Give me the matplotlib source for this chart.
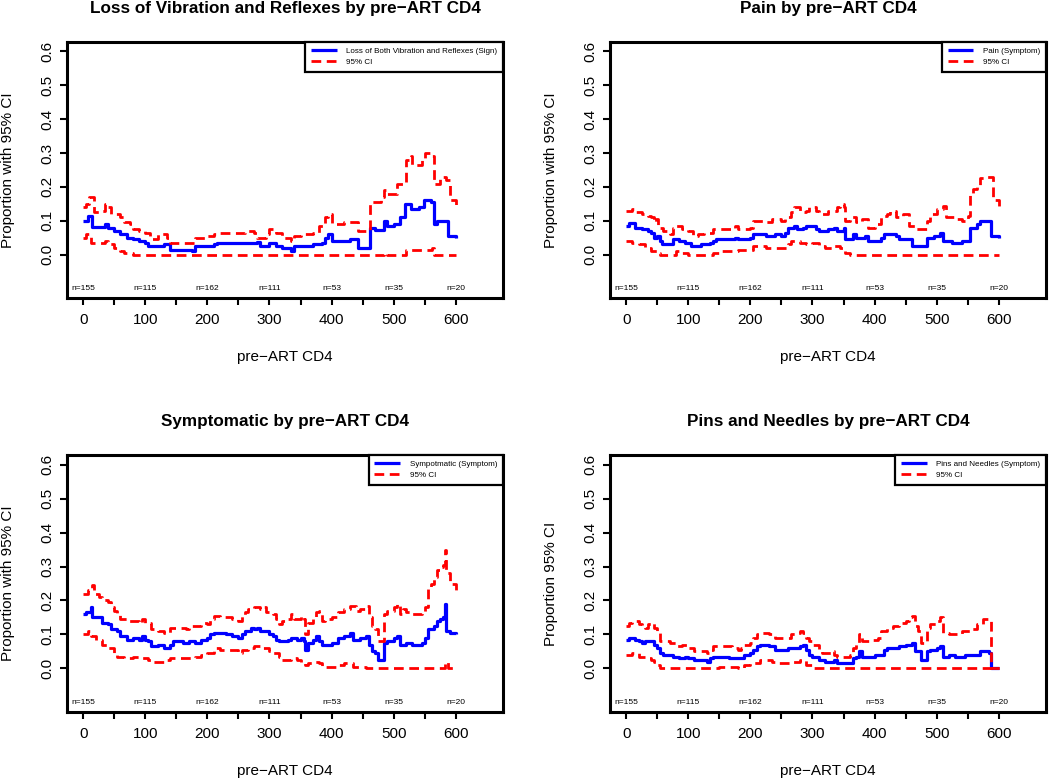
import numpy as np
import matplotlib
matplotlib.use("Agg")
import matplotlib.pyplot as plt

plt.rcParams['font.family'] = ['Liberation Sans', 'DejaVu Sans']

# ---- data ----
n_pos = [0, 100, 200, 300, 400, 500, 600]
n_labels = ['n=155', 'n=115', 'n=162', 'n=111', 'n=53', 'n=35', 'n=20']

# Loss of vibration and reflexes
loss_est_x = [0, 8, 15, 35, 40, 50, 60, 70, 80, 90, 100, 105, 130, 140, 175, 180, 210, 215, 280, 285,
              300, 310, 320, 335, 340, 370, 385, 390, 395, 400, 430, 442, 462, 470, 485, 490, 500, 510,
              518, 528, 540, 548, 560, 565, 570, 588, 600]
loss_est_y = [0.10, 0.113, 0.082, 0.09, 0.08, 0.07, 0.06, 0.05, 0.045, 0.04, 0.035, 0.025, 0.03, 0.015,
              0.012, 0.025, 0.03, 0.035, 0.038, 0.025, 0.035, 0.025, 0.02, 0.01, 0.025, 0.03, 0.035,
              0.05, 0.06, 0.04, 0.045, 0.02, 0.08, 0.072, 0.10, 0.085, 0.09, 0.11, 0.15, 0.135, 0.14,
              0.16, 0.155, 0.09, 0.10, 0.055, 0.05]
loss_up_x = [0, 5, 10, 18, 30, 35, 40, 45, 60, 65, 75, 80, 90, 100, 108, 120, 135, 140, 175, 180, 200,
             210, 220, 260, 275, 280, 295, 300, 310, 320, 335, 340, 350, 370, 380, 390, 395, 400, 420,
             442, 462, 480, 485, 490, 505, 520, 528, 530, 545, 550, 562, 565, 575, 585, 590, 600]
loss_up_y = [0.14, 0.15, 0.17, 0.125, 0.13, 0.15, 0.14, 0.12, 0.11, 0.095, 0.09, 0.075, 0.07, 0.065,
             0.045, 0.06, 0.05, 0.035, 0.035, 0.05, 0.055, 0.06, 0.065, 0.07, 0.065, 0.05, 0.06, 0.075,
             0.065, 0.05, 0.04, 0.055, 0.06, 0.065, 0.085, 0.11, 0.12, 0.09, 0.095, 0.07, 0.155, 0.17,
             0.19, 0.18, 0.21, 0.28, 0.29, 0.265, 0.28, 0.30, 0.29, 0.21, 0.23, 0.22, 0.16, 0.145]
loss_lo_x = [0, 5, 12, 35, 40, 50, 60, 65, 80, 485, 490, 520, 550, 562, 565, 600]
loss_lo_y = [0.05, 0.06, 0.035, 0.04, 0.03, 0.02, 0.01, 0.005, 0.0, 0.005, 0.0, 0.015, 0.015, 0.02, 0.0, 0.0]

# Pain
pain_est_x = [0, 5, 15, 25, 35, 40, 45, 50, 55, 57, 75, 85, 95, 105, 120, 135, 140, 145, 175, 180, 200,
              205, 225, 240, 250, 255, 260, 270, 275, 285, 290, 305, 310, 325, 335, 340, 350, 353, 365,
              370, 385, 390, 410, 415, 435, 440, 460, 485, 495, 505, 510, 525, 540, 553, 565, 570, 588, 600]
pain_est_y = [0.085, 0.093, 0.08, 0.075, 0.07, 0.065, 0.05, 0.055, 0.04, 0.03, 0.046, 0.04, 0.035, 0.025,
              0.03, 0.035, 0.04, 0.045, 0.05, 0.045, 0.05, 0.06, 0.055, 0.06, 0.055, 0.065, 0.08, 0.085,
              0.075, 0.08, 0.085, 0.075, 0.07, 0.075, 0.08, 0.07, 0.08, 0.045, 0.06, 0.05, 0.055, 0.04,
              0.05, 0.06, 0.055, 0.045, 0.025, 0.05, 0.055, 0.065, 0.04, 0.035, 0.04, 0.08, 0.09, 0.10,
              0.055, 0.05]
pain_up_x = [0, 10, 15, 25, 35, 40, 45, 48, 52, 60, 70, 75, 80, 90, 100, 108, 115, 125, 140, 170, 175,
             180, 200, 205, 225, 235, 250, 255, 265, 270, 280, 290, 295, 305, 310, 325, 340, 345, 350,
             353, 360, 370, 380, 390, 400, 410, 420, 425, 435, 445, 455, 465, 480, 485, 490, 500, 510,
             515, 530, 540, 550, 553, 558, 565, 570, 580, 590, 600]
pain_up_y = [0.13, 0.135, 0.125, 0.12, 0.115, 0.11, 0.095, 0.105, 0.08, 0.07, 0.06, 0.08, 0.085, 0.075,
             0.07, 0.055, 0.06, 0.065, 0.075, 0.075, 0.085, 0.075, 0.08, 0.10, 0.095, 0.105, 0.10, 0.11,
             0.125, 0.14, 0.125, 0.13, 0.14, 0.13, 0.12, 0.13, 0.14, 0.15, 0.14, 0.10, 0.11, 0.095, 0.105,
             0.08, 0.09, 0.115, 0.12, 0.13, 0.11, 0.12, 0.085, 0.075, 0.075, 0.10, 0.12, 0.135, 0.145,
             0.11, 0.105, 0.10, 0.115, 0.175, 0.195, 0.205, 0.225, 0.23, 0.16, 0.145]
pain_lo_x = [0, 10, 20, 30, 40, 50, 55, 80, 90, 100, 140, 150, 180, 205, 225, 260, 265, 280, 290, 300,
             310, 320, 335, 345, 350, 353, 360, 600]
pain_lo_y = [0.04, 0.035, 0.03, 0.02, 0.01, 0.005, 0.0, 0.01, 0.005, 0.0, 0.005, 0.01, 0.015, 0.025,
             0.02, 0.03, 0.04, 0.035, 0.03, 0.035, 0.025, 0.02, 0.025, 0.02, 0.01, 0.005, 0.0, 0.0]

# Symptomatic
symp_est_x = [0, 5, 12, 15, 25, 30, 40, 45, 55, 60, 70, 80, 90, 95, 100, 105, 110, 120, 130, 140, 145,
              160, 170, 180, 190, 200, 205, 210, 230, 240, 250, 255, 260, 270, 275, 280, 285, 300, 305,
              310, 315, 330, 335, 345, 350, 355, 357, 362, 370, 375, 380, 385, 400, 410, 420, 430, 435,
              445, 455, 460, 465, 470, 475, 485, 490, 500, 505, 510, 520, 530, 545, 550, 555, 565, 570,
              575, 580, 583, 585, 590, 600]
symp_est_y = [0.16, 0.165, 0.18, 0.15, 0.15, 0.135, 0.13, 0.115, 0.11, 0.095, 0.085, 0.09, 0.085, 0.095,
              0.085, 0.08, 0.065, 0.07, 0.06, 0.07, 0.08, 0.075, 0.08, 0.075, 0.085, 0.09, 0.10, 0.105,
              0.10, 0.095, 0.09, 0.10, 0.11, 0.12, 0.115, 0.12, 0.11, 0.10, 0.095, 0.085, 0.08, 0.085, 0.09,
              0.085, 0.09, 0.08, 0.055, 0.075, 0.085, 0.095, 0.08, 0.07, 0.075, 0.09, 0.095, 0.105, 0.085,
              0.09, 0.095, 0.07, 0.05, 0.045, 0.025, 0.075, 0.08, 0.09, 0.095, 0.07, 0.075, 0.07, 0.075,
              0.09, 0.115, 0.125, 0.14, 0.145, 0.15, 0.19, 0.11, 0.105, 0.10]
symp_up_x = [0, 8, 14, 17, 25, 30, 40, 45, 50, 55, 60, 70, 90, 95, 100, 110, 120, 130, 140, 165, 170,
             190, 200, 205, 210, 220, 240, 250, 255, 260, 265, 275, 285, 290, 295, 305, 310, 315, 320,
             330, 335, 340, 350, 355, 358, 362, 370, 375, 380, 385, 390, 400, 410, 420, 430, 440, 445,
             455, 460, 465, 470, 475, 485, 490, 500, 505, 510, 515, 520, 530, 545, 550, 555, 560, 565,
             570, 575, 580, 583, 585, 590, 600]
symp_up_y = [0.22, 0.23, 0.245, 0.22, 0.21, 0.20, 0.195, 0.18, 0.17, 0.16, 0.145, 0.14, 0.135, 0.145,
             0.135, 0.115, 0.11, 0.105, 0.12, 0.115, 0.125, 0.135, 0.13, 0.145, 0.155, 0.15, 0.145, 0.14,
             0.155, 0.165, 0.175, 0.18, 0.175, 0.18, 0.165, 0.16, 0.145, 0.13, 0.14, 0.145, 0.16, 0.145,
             0.155, 0.145, 0.10, 0.135, 0.15, 0.165, 0.17, 0.14, 0.145, 0.15, 0.165, 0.175, 0.185, 0.17,
             0.175, 0.185, 0.15, 0.125, 0.115, 0.08, 0.16, 0.17, 0.18, 0.19, 0.16, 0.175, 0.165, 0.16,
             0.165, 0.18, 0.24, 0.25, 0.27, 0.29, 0.30, 0.305, 0.35, 0.28, 0.25, 0.23]
symp_lo_x = [0, 8, 12, 20, 30, 40, 50, 55, 65, 80, 90, 105, 110, 135, 140, 180, 190, 200, 210, 220, 250,
             255, 265, 275, 285, 300, 305, 315, 320, 335, 345, 350, 357, 362, 370, 380, 385, 410, 420,
             435, 455, 583, 587, 600]
symp_lo_y = [0.10, 0.11, 0.095, 0.085, 0.07, 0.06, 0.045, 0.035, 0.03, 0.035, 0.03, 0.025, 0.02, 0.025,
             0.03, 0.035, 0.04, 0.045, 0.06, 0.055, 0.045, 0.055, 0.06, 0.065, 0.06, 0.05, 0.045, 0.035,
             0.025, 0.03, 0.025, 0.015, 0.01, 0.015, 0.02, 0.015, 0.005, 0.01, 0.015, 0.005, 0.0, 0.02,
             0.0, 0.0]

# Pins and needles
pins_est_x = [0, 5, 15, 20, 25, 30, 45, 50, 55, 60, 75, 85, 95, 100, 110, 130, 135, 140, 165, 190, 200,
              205, 210, 215, 230, 240, 260, 280, 285, 290, 295, 300, 310, 320, 335, 340, 365, 370, 375,
              380, 400, 415, 420, 440, 450, 460, 465, 475, 485, 490, 500, 505, 510, 520, 530, 545, 570,
              585, 587, 600]
pins_est_y = [0.085, 0.09, 0.085, 0.08, 0.075, 0.08, 0.07, 0.06, 0.045, 0.04, 0.035, 0.03, 0.035, 0.03,
              0.025, 0.02, 0.03, 0.035, 0.03, 0.04, 0.045, 0.055, 0.065, 0.07, 0.065, 0.055, 0.06, 0.065,
              0.07, 0.055, 0.04, 0.035, 0.025, 0.02, 0.025, 0.015, 0.03, 0.035, 0.05, 0.035, 0.04, 0.055,
              0.06, 0.065, 0.07, 0.075, 0.05, 0.025, 0.05, 0.055, 0.06, 0.065, 0.035, 0.04, 0.035, 0.04,
              0.05, 0.045, 0.0, 0.0]
pins_up_x = [0, 5, 10, 20, 25, 30, 35, 40, 45, 50, 55, 70, 80, 90, 100, 110, 130, 135, 140, 160, 170,
             180, 185, 190, 200, 205, 210, 215, 230, 240, 265, 275, 280, 285, 290, 295, 300, 310, 315,
             330, 335, 340, 360, 365, 370, 375, 380, 395, 405, 410, 420, 430, 440, 450, 455, 460, 465,
             470, 475, 485, 490, 500, 505, 510, 520, 540, 555, 565, 575, 585, 587, 600]
pins_up_y = [0.125, 0.135, 0.14, 0.13, 0.125, 0.12, 0.13, 0.135, 0.12, 0.11, 0.08, 0.075, 0.065, 0.07,
             0.06, 0.05, 0.045, 0.055, 0.065, 0.065, 0.06, 0.055, 0.06, 0.07, 0.075, 0.09, 0.10, 0.105,
             0.10, 0.09, 0.10, 0.105, 0.11, 0.105, 0.09, 0.08, 0.07, 0.055, 0.045, 0.05, 0.04, 0.035,
             0.04, 0.06, 0.075, 0.10, 0.08, 0.085, 0.09, 0.11, 0.12, 0.125, 0.135, 0.14, 0.15, 0.155,
             0.125, 0.11, 0.075, 0.12, 0.13, 0.14, 0.15, 0.105, 0.10, 0.11, 0.115, 0.13, 0.145, 0.14, 0.0,
             0.0]
pins_lo_x = [0, 10, 20, 30, 40, 45, 50, 55, 140, 150, 165, 180, 190, 200, 215, 235, 245, 265, 280, 290,
             300, 600]
pins_lo_y = [0.04, 0.045, 0.035, 0.03, 0.025, 0.02, 0.01, 0.0, 0.0, 0.005, 0.005, 0.0, 0.01, 0.015,
             0.025, 0.02, 0.015, 0.02, 0.025, 0.01, 0.0, 0.0]

panels = [
    ('Loss of Vibration and Reflexes by pre\u2212ART CD4', 'Proportion with 95% CI',
     'Loss of Both Vibration and Reflexes (Sign)',
     (loss_est_x, loss_est_y), (loss_up_x, loss_up_y), (loss_lo_x, loss_lo_y)),
    ('Pain by pre\u2212ART CD4', 'Proportion with 95% CI', 'Pain (Symptom)',
     (pain_est_x, pain_est_y), (pain_up_x, pain_up_y), (pain_lo_x, pain_lo_y)),
    ('Symptomatic by pre\u2212ART CD4', 'Proportion with 95% CI', 'Sympotmatic (Symptom)',
     (symp_est_x, symp_est_y), (symp_up_x, symp_up_y), (symp_lo_x, symp_lo_y)),
    ('Pins and Needles by pre\u2212ART CD4', 'Proportion 95% CI', 'Pins and Needles (Symptom)',
     (pins_est_x, pins_est_y), (pins_up_x, pins_up_y), (pins_lo_x, pins_lo_y)),
]

W, H = 1050, 779
# axes boxes in pixels: left, top, right, bottom
boxes = [(67, 42, 503, 298), (610, 42, 1046, 298), (67, 455, 503, 712), (610, 455, 1046, 712)]

fig = plt.figure(figsize=(W / 100, H / 100), dpi=100)

for (title, ylab, leglab, est, up, lo), (l, t, r, b) in zip(panels, boxes):
    ax = fig.add_axes([l / W, 1 - b / H, (r - l) / W, (b - t) / H])
    aw, ah = r - l, b - t

    ax.plot(est[0], est[1], drawstyle='steps-post', color='#0000ff', lw=2.3,
            solid_capstyle='butt', label=leglab)
    ax.plot(up[0], up[1], drawstyle='steps-post', color='#ff0000', lw=2.0,
            dashes=(3.5, 2), label='95% CI')
    ax.plot(lo[0], lo[1], drawstyle='steps-post', color='#ff0000', lw=2.0,
            dashes=(3.5, 2))

    for xp, lab in zip(n_pos, n_labels):
        ax.text(xp, -0.1, lab, ha='center', va='center', fontsize=6)

    ax.set_xlim(-26, 676)
    ax.set_ylim(-0.128, 0.628)
    ax.set_xticks(np.arange(0, 601, 50))
    ax.set_xticklabels([str(v) if v % 100 == 0 else '' for v in range(0, 601, 50)])
    ax.set_yticks(np.arange(0, 0.61, 0.1))
    ax.set_yticklabels(['%.1f' % v for v in np.arange(0, 0.61, 0.1)])
    ax.tick_params(axis='both', direction='out', length=5, width=1.5, labelsize=11)
    ax.tick_params(axis='x', pad=6)
    ax.tick_params(axis='y', pad=4, labelrotation=90)
    for lbl in ax.get_yticklabels():
        lbl.set_va('center')
    for sp in ax.spines.values():
        sp.set_linewidth(2.2)

    ax.set_xlabel('pre\u2212ART CD4', fontsize=11)
    ax.xaxis.set_label_coords(0.5, -59 / ah)
    ax.xaxis.label.set_va('center')
    ax.set_ylabel(ylab, fontsize=11)
    ax.yaxis.set_label_coords(-59 / aw, 0.5)
    ax.yaxis.label.set_va('center')

    ax.text(0.5, 1 + 34 / ah, title, transform=ax.transAxes, ha='center', va='center',
            fontsize=12.3, fontweight='bold')

    leg = ax.legend(loc='upper right', borderaxespad=0, fancybox=False, framealpha=1,
                    edgecolor='black', fontsize=5.8, handlelength=3.2, borderpad=0.7,
                    labelspacing=0.4, handletextpad=1.2)
    leg.get_frame().set_linewidth(1.6)

fig.savefig('out.png', dpi=100)
